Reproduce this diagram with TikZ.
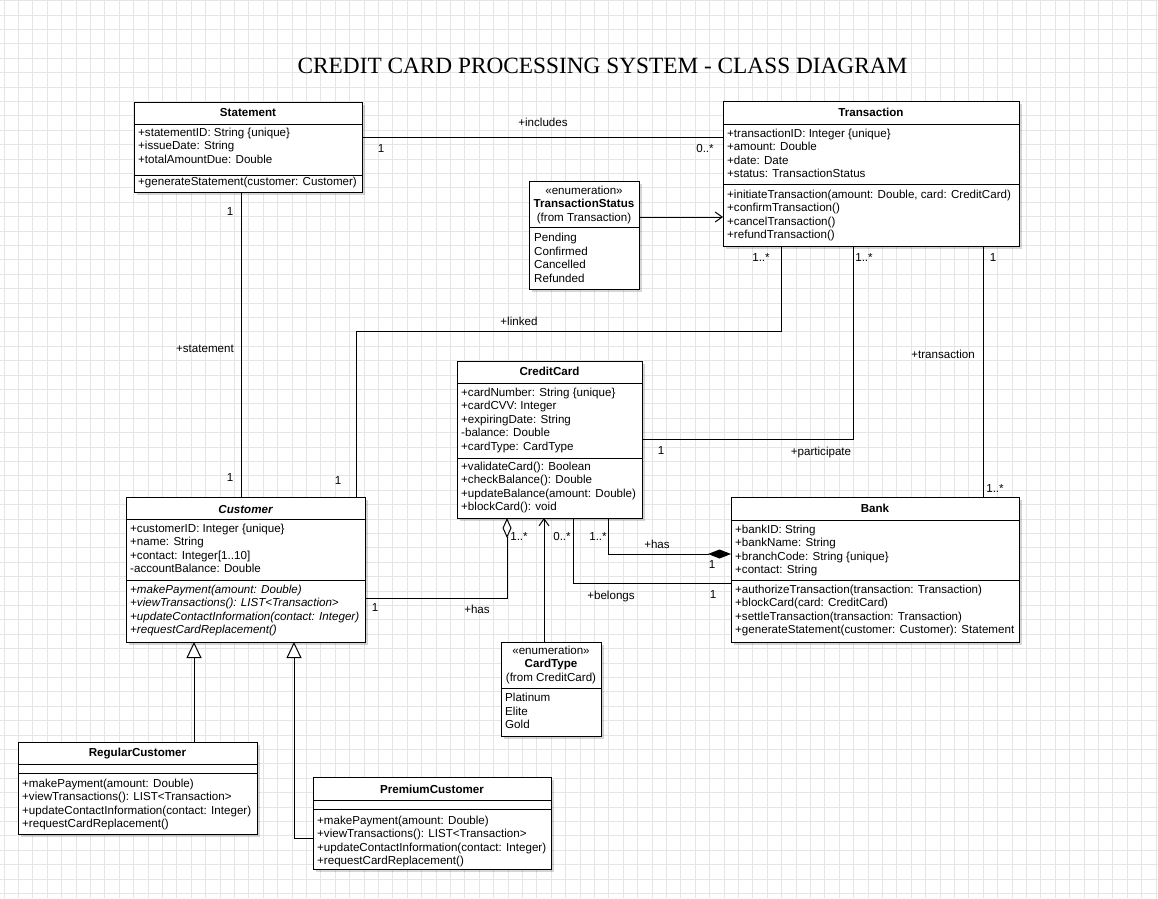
\documentclass[tikz,border=0pt]{standalone}
\usepackage{fontspec}
\setmainfont{Liberation Sans}
\newfontfamily\titlefont{Liberation Serif}
\usetikzlibrary{arrows.meta,shadows,calc}
\newcommand{\rows}[5]{%
  \foreach \rowtext [count=\i] in {#5} {\node[txt,#1] (#2\i) at (#3,{#4+13.55*(\i-1)}) {\rowtext};}}
\begin{document}
\begin{tikzpicture}[x=1pt,y=-1pt,
  gridl/.style={draw=black!10, line width=0.8pt},
  cls/.style={draw=black, fill=white, line width=1pt, anchor=north west, inner sep=0pt, outer sep=0pt,
    drop shadow={shadow xshift=3pt, shadow yshift=-3pt, opacity=0.16, fill=black}},
  divl/.style={draw=black, line width=1pt},
  txt/.style={font=\fontsize{11.6}{13.6}\selectfont, inner sep=0pt, text height=10pt, text depth=2pt, anchor=west},
  ttl/.style={txt, anchor=center, font=\fontsize{11.6}{13.6}\selectfont\bfseries},
  hdr/.style={txt, anchor=center},
  lbl/.style={txt, anchor=center},
  conn/.style={draw=black, line width=1pt},
  barb/.style={-{Straight Barb[length=7pt,width=10pt,line width=1pt]}},
  gen/.style={-{Triangle[length=16pt,width=15pt,fill=white,line width=1pt]}},
  aggr/.style={-{Diamond[length=20pt,width=9pt,fill=white,line width=1pt]}},
  comp/.style={-{Diamond[length=23pt,width=9pt,line width=1pt]}}
]
\useasboundingbox (0,0) rectangle (1158,898);
\fill[white] (0,0) rectangle (1158,898);
% grid
\foreach \i in {0,...,80} {\draw[gridl] ({4+14.4*\i},0) -- ({4+14.4*\i},898);}
\foreach \j in {0,...,62} {\draw[gridl] (0,{0.6+14.4*\j}) -- (1158,{0.6+14.4*\j});}

% title
\node[inner sep=0pt, font=\titlefont\fontsize{23.3}{26}\selectfont] (title) at (602.5,66) {CREDIT CARD PROCESSING SYSTEM - CLASS DIAGRAM};

% ---------- Statement ----------
\node[cls, minimum width=228pt, minimum height=90pt] (stmt) at (134,102) {};
\draw[divl] ([yshift=-22pt]stmt.north west) -- ([yshift=-22pt]stmt.north east);
\draw[divl] ([yshift=-73pt]stmt.north west) -- ([yshift=-73pt]stmt.north east);
\node[ttl] (stmtT) at (248,112.5) {Statement};
\rows{}{stmtA}{138}{132.3}{+statementID: String \{unique\},+issueDate: String,+totalAmountDue: Double}
\rows{}{stmtM}{138}{181}{+generateStatement(customer: Customer)}

% ---------- Transaction ----------
\node[cls, minimum width=296pt, minimum height=145pt] (trn) at (723,101) {};
\draw[divl] ([yshift=-23pt]trn.north west) -- ([yshift=-23pt]trn.north east);
\draw[divl] ([yshift=-83pt]trn.north west) -- ([yshift=-83pt]trn.north east);
\node[ttl] (trnT) at (871,112.5) {Transaction};
\rows{}{trnA}{727}{133}{+transactionID: Integer \{unique\},+amount: Double,+date: Date,+status: TransactionStatus}
\rows{}{trnM}{727}{194}{{+initiateTransaction(amount: Double, card: CreditCard)},+confirmTransaction(),+cancelTransaction(),+refundTransaction()}

% ---------- TransactionStatus ----------
\node[cls, minimum width=110pt, minimum height=108pt] (ts) at (529,181) {};
\draw[divl] ([yshift=-46pt]ts.north west) -- ([yshift=-46pt]ts.north east);
\node[hdr] (tsH1) at (584,190) {«enumeration»};
\node[hdr, font=\fontsize{11.6}{13.6}\selectfont\bfseries] (tsH2) at (584,203.5) {TransactionStatus};
\node[hdr] (tsH3) at (584,217) {(from Transaction)};
\rows{}{tsI}{534}{237.7}{Pending,Confirmed,Cancelled,Refunded}

% ---------- CreditCard ----------
\node[cls, minimum width=185pt, minimum height=157pt] (cc) at (457,361) {};
\draw[divl] ([yshift=-22pt]cc.north west) -- ([yshift=-22pt]cc.north east);
\draw[divl] ([yshift=-97pt]cc.north west) -- ([yshift=-97pt]cc.north east);
\node[ttl] (ccT) at (549.5,371.7) {CreditCard};
\rows{}{ccA}{461}{392}{+cardNumber: String \{unique\},+cardCVV: Integer,+expiringDate: String,-balance: Double,+cardType: CardType}
\rows{}{ccM}{461}{466}{+validateCard(): Boolean,+checkBalance(): Double,+updateBalance(amount: Double),+blockCard(): void}

% ---------- Customer ----------
\node[cls, minimum width=239pt, minimum height=145pt] (cust) at (126,497) {};
\draw[divl] ([yshift=-22pt]cust.north west) -- ([yshift=-22pt]cust.north east);
\draw[divl] ([yshift=-83pt]cust.north west) -- ([yshift=-83pt]cust.north east);
\node[ttl, font=\fontsize{11.6}{13.6}\selectfont\bfseries\itshape] (custT) at (245.5,509) {Customer};
\rows{}{custA}{130}{528.3}{+customerID: Integer \{unique\},+name: String,+contact: Integer[1..10],-accountBalance: Double}
\rows{font=\fontsize{11.6}{13.6}\selectfont\itshape}{custM}{130}{589}{+makePayment(amount: Double),+viewTransactions(): LIST<Transaction>,+updateContactInformation(contact: Integer),+requestCardReplacement()}

% ---------- Bank ----------
\node[cls, minimum width=288pt, minimum height=145pt] (bank) at (731,497) {};
\draw[divl] ([yshift=-23pt]bank.north west) -- ([yshift=-23pt]bank.north east);
\draw[divl] ([yshift=-83pt]bank.north west) -- ([yshift=-83pt]bank.north east);
\node[ttl] (bankT) at (875,508.5) {Bank};
\rows{}{bankA}{735}{529}{+bankID: String,+bankName: String,+branchCode: String \{unique\},+contact: String}
\rows{}{bankM}{735}{589.3}{+authorizeTransaction(transaction: Transaction),+blockCard(card: CreditCard),+settleTransaction(transaction: Transaction),+generateStatement(customer: Customer): Statement}

% ---------- CardType ----------
\node[cls, minimum width=100pt, minimum height=94pt] (ct) at (501,642) {};
\draw[divl] ([yshift=-46pt]ct.north west) -- ([yshift=-46pt]ct.north east);
\node[hdr] (ctH1) at (551,650) {«enumeration»};
\node[hdr, font=\fontsize{11.6}{13.6}\selectfont\bfseries] (ctH2) at (551,663.7) {CardType};
\node[hdr] (ctH3) at (551,677.3) {(from CreditCard)};
\rows{}{ctI}{505}{697.5}{Platinum,Elite,Gold}

% ---------- RegularCustomer ----------
\node[cls, minimum width=239pt, minimum height=92pt] (reg) at (18,742) {};
\draw[divl] ([yshift=-22pt]reg.north west) -- ([yshift=-22pt]reg.north east);
\draw[divl] ([yshift=-31pt]reg.north west) -- ([yshift=-31pt]reg.north east);
\node[ttl] (regT) at (137.5,752.5) {RegularCustomer};
\rows{}{regM}{22}{783.3}{+makePayment(amount: Double),+viewTransactions(): LIST<Transaction>,+updateContactInformation(contact: Integer),+requestCardReplacement()}

% ---------- PremiumCustomer ----------
\node[cls, minimum width=238pt, minimum height=92pt] (prem) at (313,777) {};
\draw[divl] ([yshift=-23pt]prem.north west) -- ([yshift=-23pt]prem.north east);
\draw[divl] ([yshift=-32pt]prem.north west) -- ([yshift=-32pt]prem.north east);
\node[ttl] (premT) at (432,789) {PremiumCustomer};
\rows{}{premM}{317}{820}{+makePayment(amount: Double),+viewTransactions(): LIST<Transaction>,+updateContactInformation(contact: Integer),+requestCardReplacement()}

% ---------- connectors ----------
\coordinate (yIncl) at (0,137);
\draw[conn] (stmt.east |- yIncl) -- (trn.west |- yIncl);
\coordinate (xStC) at (241,0);
\draw[conn] (stmt.south -| xStC) -- (cust.north -| xStC);
\coordinate (pLinkA) at (781,331);
\coordinate (pLinkB) at (356,331);
\draw[conn] (trn.south -| pLinkA) -- (pLinkA) -- (pLinkB) -- (cust.north -| pLinkB);
\coordinate (pPart) at (853,439);
\draw[conn] (trn.south -| pPart) -- (pPart) -- (cc.east |- pPart);
\coordinate (xTB) at (983,0);
\draw[conn] (trn.south -| xTB) -- (bank.north -| xTB);
\coordinate (yTS) at (0,217);
\draw[conn, barb] (ts.east |- yTS) -- (trn.west |- yTS);
\coordinate (pAgg) at (507,598);
\draw[conn, aggr] (cust.east |- pAgg) -- (pAgg) -- (cc.south -| pAgg);
\coordinate (xCT) at (544,0);
\draw[conn, barb] (ct.north -| xCT) -- (cc.south -| xCT);
\coordinate (pBel) at (573,583);
\draw[conn] (cc.south -| pBel) -- (pBel) -- (bank.west |- pBel);
\coordinate (pComp) at (608,554);
\draw[conn, comp] (cc.south -| pComp) -- (pComp) -- (bank.west |- pComp);
\coordinate (xReg) at (194,0);
\draw[conn, gen] (reg.north -| xReg) -- (cust.south -| xReg);
\coordinate (pPrem) at (294,838);
\draw[conn, gen] (prem.west |- pPrem) -- (pPrem) -- (cust.south -| pPrem);

% ---------- labels ----------
\node[lbl] (l1) at (543,122) {+includes};
\node[lbl] (l2) at (381,148) {1};
\node[lbl] (l3) at (705,148) {0..*};
\node[lbl] (l4) at (230,211) {1};
\node[lbl] (l5) at (205,348) {+statement};
\node[lbl] (l6) at (230,477) {1};
\node[lbl] (l7) at (761,257) {1..*};
\node[lbl] (l8) at (519,321) {+linked};
\node[lbl] (l9) at (338,480) {1};
\node[lbl] (l10) at (864,257) {1..*};
\node[lbl] (l11) at (661,450) {1};
\node[lbl] (l12) at (821,451) {+participate};
\node[lbl] (l13) at (993,257) {1};
\node[lbl] (l14) at (943,354) {+transaction};
\node[lbl] (l15) at (995,488) {1..*};
\node[lbl] (l16) at (375,607) {1};
\node[lbl] (l17) at (477,609) {+has};
\node[lbl] (l18) at (519,536) {1..*};
\node[lbl] (l19) at (562,536) {0..*};
\node[lbl] (l20) at (598,536) {1..*};
\node[lbl] (l21) at (657,544) {+has};
\node[lbl] (l22) at (712,564) {1};
\node[lbl] (l23) at (611,595) {+belongs};
\node[lbl] (l24) at (713,594) {1};
\end{tikzpicture}
\end{document}
